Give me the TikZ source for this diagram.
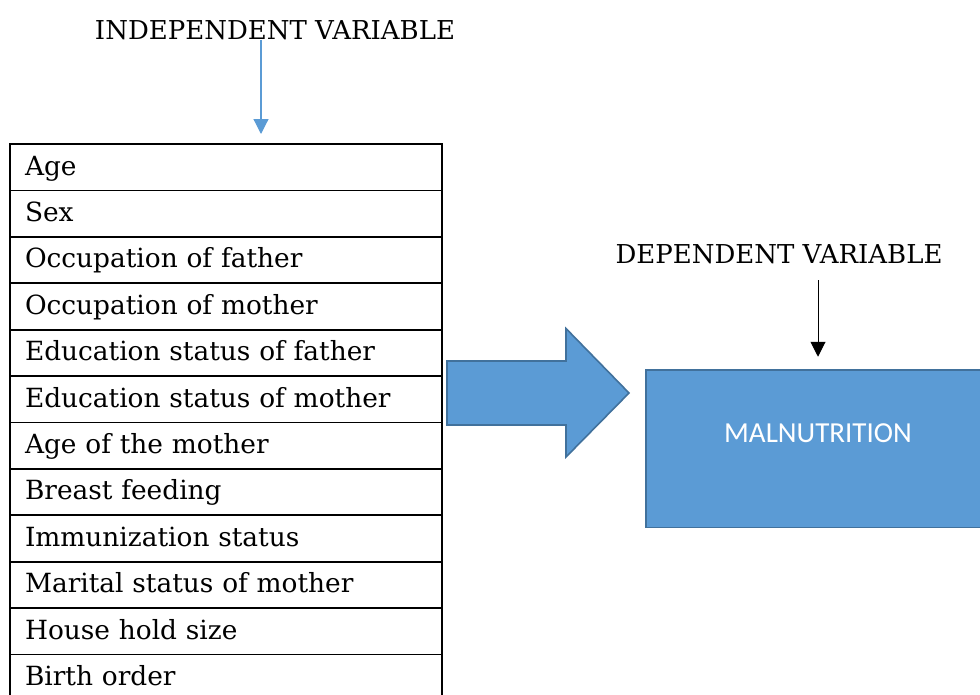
\documentclass[tikz,border=0pt]{standalone}
\usepackage{fontspec}
\setmainfont{DejaVu Serif}
\newfontfamily\calibrifont{Carlito}
\usepackage{tikz}
\usetikzlibrary{arrows.meta,positioning}
\definecolor{boxblue}{HTML}{5B9BD5}
\definecolor{edgeblue}{HTML}{41719C}

\begin{document}
\begin{tikzpicture}[x=1pt,y=-1pt,
    heading/.style={anchor=base,inner sep=1pt,font=\fontsize{26}{31}\selectfont},
    row/.style={draw,line width=1.8pt,anchor=north west,outer sep=0pt,
      minimum width=432pt,minimum height=46.4pt,inner xsep=15pt,inner ysep=0pt,
      text width=402pt,align=left,text height=21pt,text depth=5.4pt,
      font=\fontsize{26.4}{31}\selectfont},
    malbox/.style={draw=edgeblue,fill=boxblue,line width=1.6pt,outer sep=0pt,
      minimum width=344pt,minimum height=157.3pt,text=white,
      text height=18.3pt,text depth=30pt,font=\calibrifont\fontsize{29}{34}\selectfont}]
  \useasboundingbox (0,0) rectangle (980,694);

  \node[heading] (indep) at (275,39) {INDEPENDENT VARIABLE};
  \node[heading] (dep) at (779,263.3) {DEPENDENT VARIABLE};

  % list of factors
  \foreach \txt [count=\i] in {Age,Sex,Occupation of father,Occupation of mother,
      Education status of father,Education status of mother,Age of the mother,
      Breast feeding,Immunization status,Marital status of mother,
      House hold size,Birth order}
    \node[row] (r\i) at (10,{144+46.4*(\i-1)}) {\txt};

  \node[malbox] (mal) at (818,448.7) {MALNUTRITION};

  \coordinate (ia) at (261,40);
  \coordinate (da) at (818,280);
  \draw[boxblue,line width=1.2pt,-{Triangle[width=15pt,length=15pt]},shorten >=10pt]
    (ia) -- (ia |- r1.north);
  \draw[line width=1pt,-{Triangle[width=15pt,length=15pt]},shorten >=13.3pt]
    (da) -- (mal.north);

  % big arrow
  \draw[edgeblue,fill=boxblue,line width=1.6pt,line join=miter]
    (447,361) -- (566,361) -- (566,328.5) -- (629,393) -- (566,457)
    -- (566,425) -- (447,425) -- cycle;
\end{tikzpicture}
\end{document}
